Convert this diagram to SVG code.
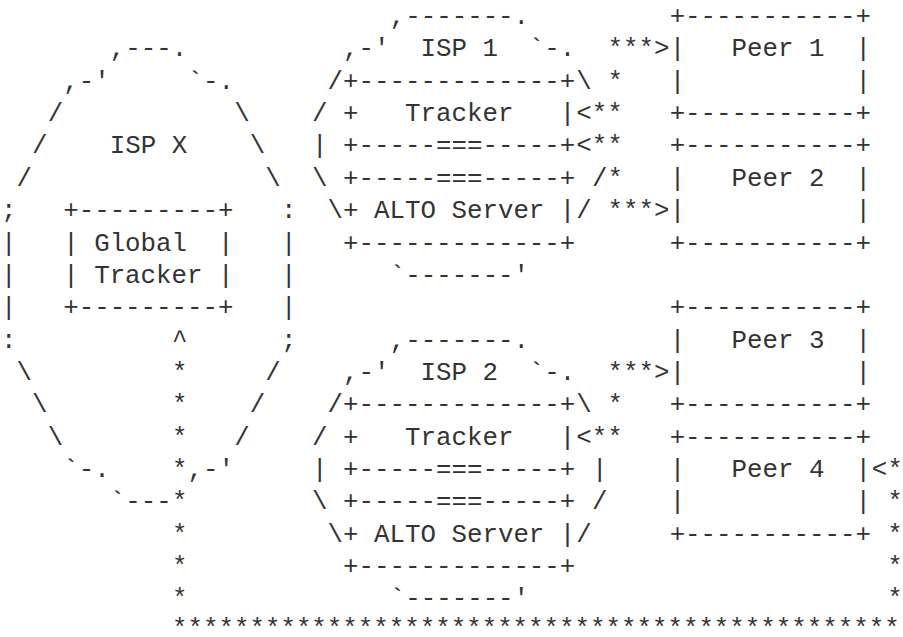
<svg xmlns="http://www.w3.org/2000/svg" width="903" height="637" viewBox="0 0 903 637" xml:space="preserve">
<style>
text{font-family:"Liberation Mono","DejaVu Sans Mono",monospace;font-size:25.8px;fill:#333;white-space:pre}
</style>
<rect width="903" height="637" fill="#fff"/>
<g id="ispX">
<text x="109.85" y="56.4">,---.</text>
<text x="63.2" y="88.7">,-'</text><text x="187.6" y="88.7">`-.</text>
<text x="47.65" y="121.1">/</text><text x="234.25" y="121.1">\</text>
<text x="32.1" y="153.4">/</text><text x="109.85" y="153.4">ISP X</text><text x="249.8" y="153.4">\</text>
<text x="16.55" y="185.8">/</text><text x="265.35" y="185.8">\</text>
<text x="1" y="218.1">;</text><text x="280.9" y="218.1">:</text>
<text x="1" y="250.5">|</text><text x="280.9" y="250.5">|</text>
<text x="1" y="282.8">|</text><text x="280.9" y="282.8">|</text>
<text x="1" y="315.2">|</text><text x="280.9" y="315.2">|</text>
<text x="1" y="347.5">:</text><text x="280.9" y="347.5">;</text>
<text x="16.55" y="379.9">\</text><text x="265.35" y="379.9">/</text>
<text x="32.1" y="412.2">\</text><text x="249.8" y="412.2">/</text>
<text x="47.65" y="444.6">\</text><text x="234.25" y="444.6">/</text>
<text x="63.2" y="476.9">`-.</text><text x="187.6" y="476.9">,-'</text>
<text x="109.85" y="509.3">`---</text>
</g>
<g id="globalTracker">
<text x="63.2" y="218.1">+---------+</text>
<text x="63.2" y="250.5">| Global  |</text>
<text x="63.2" y="282.8">| Tracker |</text>
<text x="63.2" y="315.2">+---------+</text>
</g>
<g id="isp1">
<text x="389.75" y="24">,-------.</text>
<text x="343.1" y="56.4">,-'  ISP 1  `-.</text>
<text x="327.55" y="88.7">/</text><text x="576.35" y="88.7">\</text>
<text x="312" y="121.1">/</text>
<text x="312" y="153.4">|</text>
<text x="312" y="185.8">\</text><text x="591.9" y="185.8">/</text>
<text x="327.55" y="218.1">\</text><text x="576.35" y="218.1">/</text>
<text x="389.75" y="282.8">`-------'</text>
</g>
<g id="isp1Tracker">
<text x="343.1" y="88.7">+-------------+</text>
<text x="343.1" y="121.1">+   Tracker   |</text>
<text x="343.1" y="153.4">+-----===-----+</text>
</g>
<g id="isp1Alto">
<text x="343.1" y="185.8">+-----===-----+</text>
<text x="343.1" y="218.1">+ ALTO Server |</text>
<text x="343.1" y="250.5">+-------------+</text>
</g>
<g id="isp2">
<text x="389.75" y="347.5">,-------.</text>
<text x="343.1" y="379.9">,-'  ISP 2  `-.</text>
<text x="327.55" y="412.2">/</text><text x="576.35" y="412.2">\</text>
<text x="312" y="444.6">/</text>
<text x="312" y="476.9">|</text><text x="591.9" y="476.9">|</text>
<text x="312" y="509.3">\</text><text x="591.9" y="509.3">/</text>
<text x="327.55" y="541.6">\</text><text x="576.35" y="541.6">/</text>
<text x="389.75" y="606.3">`-------'</text>
</g>
<g id="isp2Tracker">
<text x="343.1" y="412.2">+-------------+</text>
<text x="343.1" y="444.6">+   Tracker   |</text>
<text x="343.1" y="476.9">+-----===-----+</text>
</g>
<g id="isp2Alto">
<text x="343.1" y="509.3">+-----===-----+</text>
<text x="343.1" y="541.6">+ ALTO Server |</text>
<text x="343.1" y="574">+-------------+</text>
</g>
<g id="peer1">
<text x="669.65" y="24">+-----------+</text>
<text x="669.65" y="56.4">|   Peer 1  |</text>
<text x="669.65" y="88.7">|           |</text>
<text x="669.65" y="121.1">+-----------+</text>
</g>
<g id="peer2">
<text x="669.65" y="153.4">+-----------+</text>
<text x="669.65" y="185.8">|   Peer 2  |</text>
<text x="669.65" y="218.1">|           |</text>
<text x="669.65" y="250.5">+-----------+</text>
</g>
<g id="peer3">
<text x="669.65" y="315.2">+-----------+</text>
<text x="669.65" y="347.5">|   Peer 3  |</text>
<text x="669.65" y="379.9">|           |</text>
<text x="669.65" y="412.2">+-----------+</text>
</g>
<g id="peer4">
<text x="669.65" y="444.6">+-----------+</text>
<text x="669.65" y="476.9">|   Peer 4  |</text>
<text x="669.65" y="509.3">|           |</text>
<text x="669.65" y="541.6">+-----------+</text>
</g>
<g id="connectors">
<text x="607.45" y="56.4">***&gt;</text>
<text x="607.45" y="88.7">*</text>
<text x="576.35" y="121.1">&lt;**</text>
<text x="576.35" y="153.4">&lt;**</text>
<text x="607.45" y="185.8">*</text>
<text x="607.45" y="218.1">***&gt;</text>
<text x="172.05" y="347.5">^</text>
<text x="172.05" y="379.9">*</text><text x="607.45" y="379.9">***&gt;</text>
<text x="172.05" y="412.2">*</text><text x="607.45" y="412.2">*</text>
<text x="172.05" y="444.6">*</text><text x="576.35" y="444.6">&lt;**</text>
<text x="172.05" y="476.9">*</text><text x="871.8" y="476.9">&lt;*</text>
<text x="172.05" y="509.3">*</text><text x="887.35" y="509.3">*</text>
<text x="172.05" y="541.6">*</text><text x="887.35" y="541.6">*</text>
<text x="172.05" y="574">*</text><text x="887.35" y="574">*</text>
<text x="172.05" y="606.3">*</text><text x="887.35" y="606.3">*</text>
<text x="172.05" y="636">***********************************************</text>
</g>
</svg>
